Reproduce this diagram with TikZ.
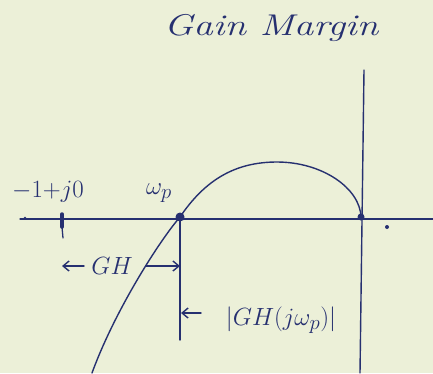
\documentclass[tikz,border=0pt]{standalone}
\usetikzlibrary{arrows.meta}
\definecolor{paper}{RGB}{236,240,216}
\definecolor{ink}{RGB}{38,48,112}
\begin{document}
\begin{tikzpicture}[x=1pt,y=-1pt,
  pen/.style={draw=ink, line width=1.4pt, line cap=round, line join=round},
  arr/.style={pen, -{Straight Barb[length=6pt,width=10pt]}},
  lbl/.style={text=ink, inner sep=0pt}]
\fill[paper] (0,0) rectangle (433,373);
\useasboundingbox (0,0) rectangle (433,373);
% axes
\coordinate (axL) at (20,219);
\coordinate (axR) at (433,219);
\coordinate (vT) at (364,70);
\coordinate (vB) at (360,373);
\draw[pen, line width=1.2pt] (axL) -- (axR);
\draw[pen] (vT) -- (vB);
% curve
\coordinate (bot) at (92,373);
\coordinate (wp) at (180,217);
\coordinate (peak) at (277,162);
\coordinate (cross) at (361,217);
\draw[pen] (bot) .. controls (115,310) and (160,240) .. (wp)
  .. controls (205,180) and (235,162) .. (peak)
  .. controls (322,162) and (360,188) .. (cross);
\fill[ink] (wp) circle (4.5);
\fill[ink] (cross) circle (3.5);
\coordinate (dotR) at (387,227);
\fill[ink] (dotR) circle (2);
\coordinate (dotL) at (25,218);
\fill[ink] (dotL) circle (1.3);
% -1+j0 point mark
\coordinate (m1) at (62,214);
\coordinate (m1m) at (62,227);
\coordinate (m1b) at (63,238);
\draw[pen, line width=3.5pt] (m1) -- (m1m);
\draw[pen, line width=1.3pt] (m1m) -- (m1b);
% labels
\node[lbl, font=\fontsize{24}{28}\selectfont] (lmone) at (48,192) {$-1{+}j0$};
\node[lbl, font=\fontsize{28}{32}\selectfont] (lwp) at (159,193) {$\omega_p$};
\node[lbl, font=\fontsize{30}{34}\selectfont\itshape] (title) at (271,28) {\scalebox{1.3}[1]{Gain Margin}};
% GH dimension
\node[lbl, font=\fontsize{27}{30}\selectfont] (gh) at (112,266) {$GH$};
\coordinate (ghL) at (62,266);
\coordinate (ghLs) at (84,266);
\coordinate (ghRs) at (146,266);
\coordinate (ghR) at (180,266);
\draw[arr] (ghLs) -- (ghL);
\draw[arr] (ghRs) -- (ghR);
% |GH(j wp)|
\coordinate (wpd) at (180,340);
\draw[pen] (wp) -- (wpd);
\coordinate (mS) at (201,313);
\coordinate (mE) at (181,313);
\draw[arr] (mS) -- (mE);
\node[lbl, font=\fontsize{28}{32}\selectfont] (mag) at (281,320) {$|GH(j\omega_p)|$};
\end{tikzpicture}
\end{document}
